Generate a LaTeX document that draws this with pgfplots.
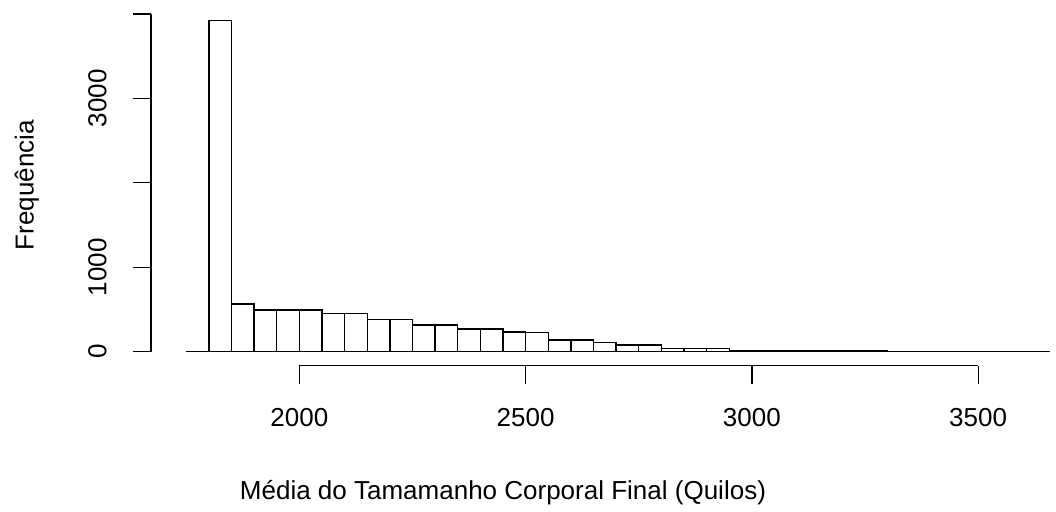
\documentclass[border=0pt]{standalone}
\usepackage{pgfplots}
\pgfplotsset{compat=1.18}
\usepackage{fontspec}
\setmainfont{Liberation Sans}
\begin{document}
\begin{tikzpicture}
\begin{axis}[
  x=0.4525bp, y=0.08443bp,
  xmin=1672, xmax=3672, ymin=-166, ymax=4165,
  clip=false,
  axis line style={draw=none},
  xtick={2000,2500,3000,3500},
  xticklabels={2000,2500,3000,3500},
  ytick={0,1000,2000,3000,4000},
  yticklabels={0,1000,,3000,},
  tick align=outside,
  xtick pos=bottom, ytick pos=left,
  major tick length=18bp,
  tick style={black, line width=1.3bp},
  ticklabel style={font=\fontsize{26bp}{30bp}\selectfont, inner sep=0pt},
  xticklabel style={anchor=north, yshift=-24bp},
  yticklabel style={xshift=-26bp, rotate=90, anchor=south},
  xlabel={Média do Tamamanho Corporal Final (Quilos)},
  ylabel={Frequência},
  label style={font=\fontsize{26bp}{30bp}\selectfont, inner sep=0pt},
  xlabel style={at={(axis description cs:0.389,-0.348)}, anchor=center},
  ylabel style={at={(axis description cs:-0.137,0.494)}, anchor=center},
]
\addplot[black, line width=1.3bp] coordinates {(1749.6,0) (3658,0)};
\addplot[ybar interval, fill=white, draw=black, line width=1.4bp] coordinates {
(1800,3922) (1850,565) (1900,494) (1950,494) (2000,492) (2050,455) (2100,455)
(2150,384) (2200,380) (2250,316) (2300,316) (2350,269) (2400,269) (2450,232)
(2500,230) (2550,139) (2600,139) (2650,111) (2700,79) (2750,79) (2800,40)
(2850,40) (2900,40) (2950,17) (3000,16) (3050,15) (3100,14) (3150,13) (3200,12)
(3250,12) (3300,0)};
\draw[line width=1.3bp] (axis cs:2000,-166) -- (axis cs:3500,-166);
\draw[line width=1.3bp] (axis cs:1672,0) -- (axis cs:1672,4000);
\path (axis cs:1338.6,-1898.6) rectangle (axis cs:3672,4165.6);
\end{axis}
\end{tikzpicture}
\end{document}
